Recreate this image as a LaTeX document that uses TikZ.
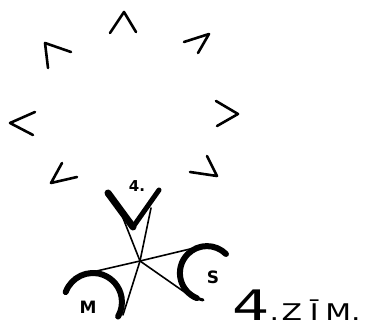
\documentclass[tikz,border=0pt]{standalone}
\usepackage{fontspec}
\setmainfont{DejaVu Sans}
\begin{document}
\begin{tikzpicture}[x=1pt,y=1pt,
  chev/.style={line width=2.6pt,line cap=round,line join=round},
  thinln/.style={line width=1.6pt,line cap=round},
  thickln/.style={line width=6pt,line cap=round,line join=round},
  lbl/.style={inner sep=0pt,font=\bfseries\fontsize{17}{17}\selectfont}]
\useasboundingbox (0,0) rectangle (366,331);
% chevrons in a ring
\draw[chev] (110,298) -- (124,319) -- (136,299);
\draw[chev] (48,263) -- (45,288) -- (71,279);
\draw[chev] (184,289) -- (209,297) -- (198,278);
\draw[chev] (35,219) -- (10,208) -- (33,196);
\draw[chev] (216,230) -- (238,217) -- (217,205);
\draw[chev] (62,168) -- (51,148) -- (77,154);
\draw[chev] (207,175) -- (217,155) -- (190,159);
% central figure
\coordinate (vl) at (108,138);
\coordinate (vb) at (133,104);
\coordinate (vr) at (159,141);
\coordinate (x) at (140,70);
\coordinate (a1) at (123,113);
\coordinate (a2) at (193,33);
\coordinate (b1) at (151,123);
\coordinate (b2) at (123,16);
\coordinate (c1) at (88,58);
\coordinate (c2) at (190,82);
\draw[line width=7pt,line cap=round] (vl) -- (vb);
\draw[line width=5pt,line cap=round] (vb) -- (vr);
\draw[thinln] (a1) -- (x) -- (a2);
\draw[thinln] (b1) -- (x) -- (b2);
\draw[thinln] (c1) -- (x) -- (c2);
% M and S arcs
\draw[thickln] (65.7,38.9) arc[start angle=160,end angle=-30,radius=29];
\draw[thickln] (226,77) arc[start angle=45,end angle=248,radius=27];
\draw[line width=3pt,line cap=round] (196,33) -- (203,31);
% labels
\node[lbl,font=\bfseries\fontsize{15}{15}\selectfont] (l4) at (137,145) {4.};
\node[lbl] (ls) at (213,54) {S};
\node[lbl] (lm) at (88,24) {M};
\node[inner sep=0pt,anchor=base west] (title) at (232,10)
  {\scalebox{1.4}[1]{\fontsize{42}{42}\selectfont 4}\scalebox{1.3}[1]{\fontsize{23}{23}\selectfont .\hspace{2pt}Z\hspace{6pt}Ī\hspace{5pt}M.}};
\end{tikzpicture}
\end{document}
